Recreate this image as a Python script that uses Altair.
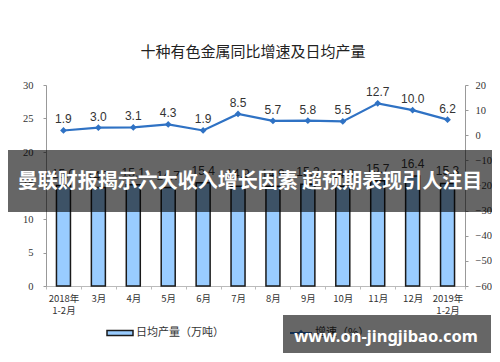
import altair as alt
import pandas as pd

months = ["2018年|1-2月", "3月", "4月", "5月", "6月", "7月", "8月", "9月",
          "10月", "11月", "12月", "2019年|1-2月"]
production = [15.0, 14.7, 15.1, 14.7, 15.4, 14.9, 14.9, 15.2, 14.9, 15.7, 16.4, 15.3]
growth = [1.9, 3.0, 3.1, 4.3, 1.9, 8.5, 5.7, 5.8, 5.5, 12.7, 10.0, 6.2]
left_ticks = [0, 5, 10, 15, 20, 25, 30]
right_ticks = [-60, -50, -40, -30, -20, -10, 0, 10, 20]

title_text = "十种有色金属同比增速及日均产量"
bar_legend = "日均产量（万吨）"
line_legend = "增速（%）"
banner_text = "曼联财报揭示六大收入增长因素 超预期表现引人注目"
watermark_text = "www.on-jingjibao.com"

df = pd.DataFrame({"month": months, "production": production, "growth": growth})

W, H = 419, 201
BAR_FILL = "#99ccff"
LINE_COL = "#2f72c4"
CJK = "Noto Sans CJK SC"

x = alt.X(
    "month:N", sort=months, title=None,
    scale=alt.Scale(paddingInner=0, paddingOuter=0),
    axis=alt.Axis(labelAngle=0, labelExpr="split(datum.label, '|')",
                  labelFont=CJK, labelFontSize=9.5, labelColor="#333",
                  labelPadding=4, labelLineHeight=12, domainColor="#bbb",
                  tickColor="#bbb", tickSize=3, tickBand="extent", labelOverlap=False),
)

yl = alt.Y("production:Q", title=None,
           scale=alt.Scale(domain=[0, 30], nice=False),
           axis=alt.Axis(values=left_ticks, grid=False, labelFont="Liberation Serif",
                         labelFontSize=10.5, labelColor="#333", domainColor="#999",
                         tickColor="#999", tickSize=3, labelPadding=10,
                         labelOverlap=False))

yr = alt.Y("growth:Q", title=None,
           scale=alt.Scale(domain=[-60, 20], nice=False),
           axis=alt.Axis(orient="right", values=right_ticks, grid=False,
                         labelFont="Liberation Serif", labelFontSize=10.5,
                         labelColor="#333", domainColor="#999", tickColor="#999",
                         tickSize=3, labelPadding=7, labelOverlap=False))

base = alt.Chart(df)

bars = base.mark_bar(size=14, fill=BAR_FILL, stroke="#1a1a1a", strokeWidth=1.5).encode(
    x=x, y=yl)
bar_text = base.mark_text(dy=-12, font="Liberation Sans", fontSize=12, color="#333").encode(
    x=x, y=yl, text=alt.Text("production:Q", format=".1f"))
bar_layer = alt.layer(bars, bar_text)

line = base.mark_line(color=LINE_COL, strokeWidth=2.2).encode(x=x, y=yr)
points = base.mark_point(shape="diamond", filled=True, size=45, color=LINE_COL, opacity=1).encode(
    x=x, y=yr)
line_text = base.mark_text(dy=-11, font="Liberation Sans", fontSize=12, color="#333").encode(
    x=x, y=yr, text=alt.Text("growth:Q", format=".1f"))
line_layer = alt.layer(line, points, line_text)

main = alt.layer(bar_layer, line_layer).resolve_scale(y="independent")

one = pd.DataFrame({"t": [0]})
title = alt.Chart(one).mark_text(text=title_text, font=CJK, fontSize=15, color="#222",
                                  align="center", baseline="middle").encode(
    x=alt.value(207), y=alt.value(-33))

leg_rect = alt.Chart(one).mark_rect(fill=BAR_FILL, stroke="#1a1a1a", strokeWidth=1.5).encode(
    x=alt.value(61), x2=alt.value(87), y=alt.value(245.5), y2=alt.value(250.5))
leg_text = alt.Chart(one).mark_text(text=bar_legend, font=CJK, fontSize=11, color="#333",
                                     align="left", baseline="middle").encode(
    x=alt.value(90), y=alt.value(248))
leg2_line = alt.Chart(one).mark_rule(color=LINE_COL, strokeWidth=2).encode(
    x=alt.value(244), x2=alt.value(266), y=alt.value(248))
leg2_pt = alt.Chart(one).mark_point(shape="diamond", filled=True, size=40, color=LINE_COL, opacity=1).encode(
    x=alt.value(255), y=alt.value(248))
leg2_text = alt.Chart(one).mark_text(text=line_legend, font=CJK, fontSize=11, color="#333",
                                      align="left", baseline="middle").encode(
    x=alt.value(269), y=alt.value(248))

banner_rect = alt.Chart(one).mark_rect(fill="#000000", opacity=0.6).encode(
    x=alt.value(-40), x2=alt.value(448), y=alt.value(65), y2=alt.value(127))
banner = alt.Chart(one).mark_text(text=banner_text, font=CJK, fontSize=20, fontWeight="bold",
                                   color="#ffffff", align="center", baseline="middle").encode(
    x=alt.value(204), y=alt.value(97))

wm_rect = alt.Chart(one).mark_rect(fill="#000000", opacity=0.6).encode(
    x=alt.value(237), x2=alt.value(445), y=alt.value(230), y2=alt.value(268))
wm = alt.Chart(one).mark_text(text=watermark_text, font="Noto Sans", fontSize=16.5, fontWeight="bold",
                               color="#ffffff", align="center", baseline="middle").encode(
    x=alt.value(340), y=alt.value(252))

chart = alt.layer(
    main, title, leg_rect, leg_text, leg2_line, leg2_pt, leg2_text,
    banner_rect, banner, wm_rect, wm
).properties(
    width=W, height=H,
    autosize=alt.AutoSizeParams(type="none"),
    padding={"left": 38, "top": 77, "right": 27, "bottom": 68},
    background="#ffffff",
).configure_view(stroke=None)

chart.save("out.html", embed_options={"renderer": "svg", "actions": False})
